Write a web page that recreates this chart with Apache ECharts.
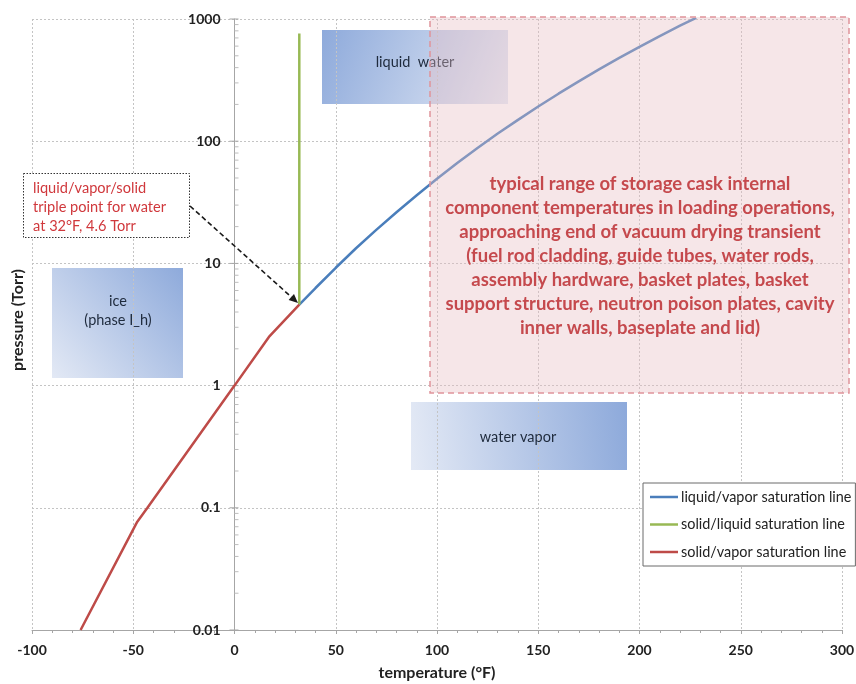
<!DOCTYPE html>
<html>
<head>
<meta charset="utf-8">
<title>Water phase diagram</title>
<script src="https://cdn.jsdelivr.net/npm/echarts@6/dist/echarts.min.js"></script>
<style>
  html, body { margin: 0; padding: 0; background: #ffffff; }
  #chart { width: 856px; height: 684px; }
</style>
</head>
<body>
<div id="chart"></div>
<script>
// Temperature axis ticks (°F)
const tempTicks = [-100, -50, 0, 50, 100, 150, 200, 250, 300];
// Pressure axis ticks (Torr, log scale)
const pressureTicks = [0.01, 0.1, 1, 10, 100, 1000];
// Minor pressure ticks inside each decade (multiples of the decade start)
const minorSteps = [2, 3, 4, 5, 6, 7, 8, 9];

// solid/vapor saturation line: [temperature °F, pressure Torr]
const solidVapor = [
  [-76, 0.01], [-48, 0.077], [-43, 0.1], [0, 1.0], [17, 2.5], [32, 4.6]
];

// liquid/vapor saturation line: [temperature °F, pressure Torr]
const liquidVapor = [
  [32, 4.6], [40, 6.29], [50, 9.21], [60, 13.3], [70, 18.8], [80, 26.2],
  [90, 36.1], [100, 49.2], [110, 66.3], [120, 88.0], [130, 115.6],
  [140, 149.4], [150, 192.2], [160, 244.8], [170, 308.8], [180, 386.6],
  [190, 480.3], [200, 592.3], [210, 725.4], [220, 882.5], [228, 1022]
];

// solid/liquid saturation line: [temperature °F, pressure Torr]
const solidLiquid = [
  [32, 4.6], [32, 760]
];

const seriesNames = [
  'liquid/vapor saturation line',
  'solid/liquid saturation line',
  'solid/vapor saturation line'
];

const FONT = 'Lato, "Open Sans", sans-serif';
const AXIS_GRAY = '#a6a6a6';
const chart = echarts.init(document.getElementById('chart'), null, { renderer: 'canvas' });

// pressure axis drawn along the 0 °F line: major ticks with labels, minor ticks
const pressureAxisMarks = [];
pressureTicks.forEach(p => pressureAxisMarks.push([0, p, 1]));
pressureTicks.slice(0, -1).forEach(p => minorSteps.forEach(m => pressureAxisMarks.push([0, p * m, 0])));

function boxGradient(x0, y0, x1, y1) {
  return new echarts.graphic.LinearGradient(x0, y0, x1, y1, [
    { offset: 0, color: '#8eaadb' },
    { offset: 1, color: '#e3e9f5' }
  ]);
}

// arrow from the triple point note to the triple point
const arrowFrom = [190, 206];
const arrowTo = [298, 303];
const ang = Math.atan2(arrowTo[1] - arrowFrom[1], arrowTo[0] - arrowFrom[0]);
const headLen = 9, headW = 4;
const headBase = [arrowTo[0] - headLen * Math.cos(ang), arrowTo[1] - headLen * Math.sin(ang)];
const headPts = [
  arrowTo,
  [headBase[0] + headW * Math.sin(ang), headBase[1] - headW * Math.cos(ang)],
  [headBase[0] - headW * Math.sin(ang), headBase[1] + headW * Math.cos(ang)]
];

const option = {
  backgroundColor: '#ffffff',
  animation: false,
  textStyle: { fontFamily: FONT },
  grid: { left: 32, right: 14, top: 19, bottom: 54, containLabel: false, outerBoundsMode: 'none' },
  legend: {
    orient: 'vertical',
    left: 643,
    top: 483,
    data: seriesNames,
    icon: 'rect',
    itemWidth: 28,
    itemHeight: 2.5,
    itemGap: 13.5,
    padding: [7, 4, 7, 7],
    backgroundColor: '#ffffff',
    borderColor: '#6a6a6a',
    borderWidth: 1,
    borderRadius: 0,
    textStyle: { fontFamily: FONT, fontSize: 14.4, color: '#222222', padding: [0, 0, 0, -2] },
    z: 20
  },
  xAxis: {
    type: 'value',
    min: -100,
    max: 300,
    interval: 50,
    name: 'temperature (°F)',
    nameLocation: 'middle',
    nameGap: 35,
    nameTextStyle: { fontFamily: FONT, fontSize: 16, fontWeight: 'bold', color: '#222222' },
    axisLine: { onZero: false, lineStyle: { color: AXIS_GRAY, width: 1 } },
    axisTick: { show: true, length: 4, lineStyle: { color: AXIS_GRAY } },
    minorTick: { show: true, splitNumber: 5, length: 3, lineStyle: { color: AXIS_GRAY } },
    axisLabel: {
      margin: 13,
      fontFamily: FONT, fontSize: 14, fontWeight: 'bold', color: '#222222',
      formatter: v => (tempTicks.includes(v) ? String(v) : '')
    },
    splitLine: { show: true, lineStyle: { color: '#c4c4c4', type: [2, 2], width: 1 } }
  },
  yAxis: {
    type: 'log',
    logBase: 10,
    min: 0.01,
    max: 1000,
    axisLine: { show: true, onZero: true, lineStyle: { color: AXIS_GRAY, width: 1 } },
    axisTick: { show: false },
    minorTick: { show: false },
    axisLabel: { show: false },
    splitLine: { show: true, lineStyle: { color: '#c4c4c4', type: [2, 2], width: 1 } }
  },
  series: [
    {
      name: seriesNames[0],
      type: 'line',
      data: liquidVapor,
      showSymbol: false,
      smooth: false,
      lineStyle: { color: '#4a7ebb', width: 2.5 },
      itemStyle: { color: '#4a7ebb' },
      z: 5
    },
    {
      name: seriesNames[1],
      type: 'line',
      data: solidLiquid,
      showSymbol: false,
      lineStyle: { color: '#98b954', width: 2.5 },
      itemStyle: { color: '#98b954' },
      z: 5
    },
    {
      name: seriesNames[2],
      type: 'line',
      data: solidVapor,
      showSymbol: false,
      lineStyle: { color: '#be4b48', width: 2.5 },
      itemStyle: { color: '#be4b48' },
      z: 5
    },
    {
      // pressure axis ticks and labels placed on the 0 °F line
      type: 'custom',
      name: 'pressure axis',
      data: pressureAxisMarks,
      silent: true,
      clip: false,
      z: 4,
      renderItem: (params, api) => {
        const pt = api.coord([api.value(0), api.value(1)]);
        const major = api.value(2) === 1;
        if (!major) {
          return {
            type: 'line',
            shape: { x1: pt[0], y1: pt[1], x2: pt[0] + 4, y2: pt[1] },
            style: { stroke: '#bdbdbd', lineWidth: 1 }
          };
        }
        const v = api.value(1);
        const txt = String(pressureTicks.find(t => Math.abs(t - v) / t < 1e-6));
        return {
          type: 'group',
          children: [
            { type: 'line', shape: { x1: pt[0] - 5, y1: pt[1], x2: pt[0] + 4, y2: pt[1] },
              style: { stroke: AXIS_GRAY, lineWidth: 1 } },
            { type: 'text', x: pt[0] - 14, y: pt[1],
              style: { text: txt, align: 'right', verticalAlign: 'middle',
                fontFamily: FONT, fontSize: 14, fontWeight: 'bold', fill: '#222222' } }
          ]
        };
      }
    }
  ],
  graphic: [
    // phase region labels
    {
      type: 'group', left: 52, top: 268, z: 1,
      children: [
        { type: 'rect', shape: { x: 0, y: 0, width: 131, height: 110 },
          style: { fill: boxGradient(1, 0, 0, 1) } },
        { type: 'text', style: { x: 66, y: 43, text: 'ice\n(phase I_h)', align: 'center',
          verticalAlign: 'middle', lineHeight: 19, fontFamily: FONT, fontSize: 14.5, fill: '#1e2a3c' } }
      ]
    },
    {
      type: 'group', left: 322, top: 30, z: 1,
      children: [
        { type: 'rect', shape: { x: 0, y: 0, width: 186, height: 74 },
          style: { fill: boxGradient(0, 0, 1, 1) } },
        { type: 'text', style: { x: 93, y: 32, text: 'liquid  water', align: 'center',
          verticalAlign: 'middle', fontFamily: FONT, fontSize: 14.5, fill: '#1e2a3c' } }
      ]
    },
    {
      type: 'group', left: 411, top: 402, z: 1,
      children: [
        { type: 'rect', shape: { x: 0, y: 0, width: 216, height: 68 },
          style: { fill: boxGradient(1, 0.3, 0, 0.7) } },
        { type: 'text', style: { x: 107, y: 35, text: 'water vapor', align: 'center',
          verticalAlign: 'middle', fontFamily: FONT, fontSize: 14.5, fill: '#1e2a3c' } }
      ]
    },
    // loading-operations temperature range
    {
      type: 'rect', z: 10,
      shape: { x: 430, y: 17, width: 419, height: 376 },
      style: {
        fill: 'rgba(232,190,194,0.38)',
        stroke: '#e0949a', lineWidth: 1.5, lineDash: [6, 4]
      }
    },
    {
      type: 'text', z: 11,
      style: {
        x: 640, y: 256,
        text: 'typical range of storage cask internal\n' +
              'component temperatures in loading operations,\n' +
              'approaching end of vacuum drying transient\n' +
              '(fuel rod cladding, guide tubes, water rods,\n' +
              'assembly hardware, basket plates, basket\n' +
              'support structure, neutron poison plates, cavity\n' +
              'inner walls, baseplate and lid)',
        align: 'center', verticalAlign: 'middle', lineHeight: 24,
        fontFamily: FONT, fontSize: 18.5, fontWeight: 'bold', fill: '#c5494d'
      }
    },
    // triple point note
    {
      type: 'rect', z: 12,
      shape: { x: 23.5, y: 173.5, width: 166, height: 64 },
      style: { fill: '#ffffff', stroke: '#333333', lineWidth: 1, lineDash: [1.5, 1.5] }
    },
    {
      type: 'text', z: 13,
      style: {
        x: 33, y: 207,
        text: 'liquid/vapor/solid\ntriple point for water\nat 32°F, 4.6 Torr',
        align: 'left', verticalAlign: 'middle', lineHeight: 19,
        fontFamily: FONT, fontSize: 14.6, fill: '#d0383c'
      }
    },
    {
      type: 'line', z: 12,
      shape: { x1: arrowFrom[0], y1: arrowFrom[1], x2: headBase[0], y2: headBase[1] },
      style: { stroke: '#1a1a1a', lineWidth: 1.6, lineDash: [5, 3] }
    },
    {
      type: 'polygon', z: 12,
      shape: { points: headPts },
      style: { fill: '#1a1a1a' }
    },
    // vertical axis title
    {
      type: 'text', z: 5,
      x: 18, y: 320, rotation: Math.PI / 2,
      style: {
        text: 'pressure (Torr)', align: 'center', verticalAlign: 'middle',
        fontFamily: FONT, fontSize: 16, fontWeight: 'bold', fill: '#222222'
      }
    }
  ]
};

chart.setOption(option);
</script>
</body>
</html>
